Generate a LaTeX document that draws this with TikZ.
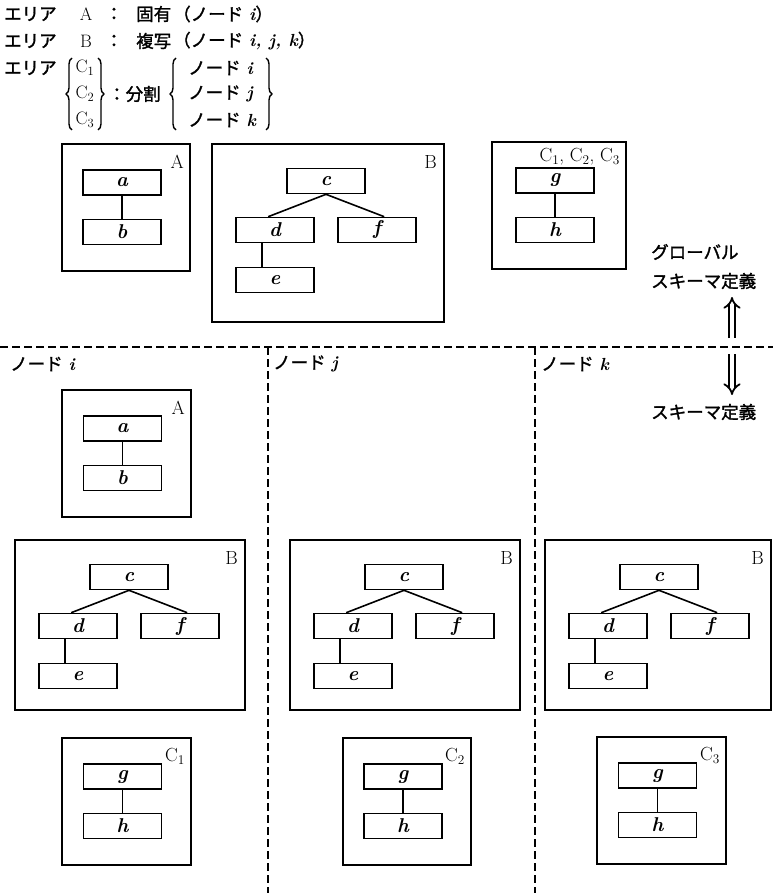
\documentclass[tikz,border=0pt]{standalone}
\usepackage{fontspec}
\newfontfamily\jp{Noto Sans CJK JP}[FakeBold=1.6]
\usetikzlibrary{arrows.meta,calc,decorations.pathreplacing}
\newcommand\varit[1]{{\rmfamily\bfseries\itshape #1}}
\newcommand\sub[1]{\textsubscript{#1}}
\tikzset{
  outerbox/.style={draw, line width=2pt, inner sep=0pt},
  innerbox/.style={draw, line width=1.6pt, minimum width=78pt, minimum height=25pt, inner sep=0pt, font=\rmfamily\bfseries\itshape\fontsize{20}{20}\selectfont},
  link/.style={line width=1.6pt},
  boxlabel/.style={anchor=north east, inner sep=0pt, font=\rmfamily\fontsize{19}{19}\selectfont},
  jpt/.style={inner sep=0pt, font=\jp\fontsize{17.5}{20}\selectfont},
  lat/.style={inner sep=0pt, font=\rmfamily\fontsize{18}{20}\selectfont},
  divider/.style={line width=2pt, dash pattern=on 8pt off 4pt},
  bigarrow/.style={double, double distance=4pt, line width=1.8pt, -{Implies}},
  curly/.style={line width=1.4pt, decorate, decoration={brace, amplitude=6pt}},
}
% name, x, y, width, top letter, bottom letter, label, label offset
\newcommand\pairgroup[8]{%
  \node[outerbox, minimum width=#4pt, minimum height=127pt] (#1) at (#2+#4/2, #3+63.5) {};
  \node[innerbox] (#1-t) at ($(#1.north west)+(#4/2-3,39.5)$) {#5};
  \node[innerbox] (#1-b) at ($(#1.north west)+(#4/2-3,89)$) {#6};
  \node[boxlabel] (#1-l) at ($(#1.north east)+(-7,#8)$) {#7};
  \draw[link] (#1-t) -- (#1-b);
}
% name, x, y, width, height
\newcommand\treegroup[5]{%
  \node[outerbox, minimum width=#4pt, minimum height=#5pt] (#1) at (#2+#4/2, #3+#5/2) {};
  \node[innerbox] (#1-c) at ($(#1.north west)+(115,38)$) {c};
  \node[innerbox] (#1-d) at ($(#1.north west)+(64,87)$) {d};
  \node[innerbox] (#1-f) at ($(#1.north west)+(166,87)$) {f};
  \node[innerbox] (#1-e) at ($(#1.north west)+(64,137)$) {e};
  \node[boxlabel] (#1-l) at ($(#1.north east)+(-8,12)$) {B};
  \draw[link] (#1-c.south) -- ($(#1-d.north west)+(33,0)$);
  \draw[link] (#1-c.south) -- ($(#1-f.north west)+(47,0)$);
  \draw[link] ($(#1-d.south west)+(27,0)$) -- ($(#1-e.north west)+(27,0)$);
}
\begin{document}
\begin{tikzpicture}[x=1pt,y=-1pt]
\useasboundingbox (0,0) rectangle (773,893);
% legend
\node[jpt,anchor=west] (l1a) at (4,14) {エリア};
\node[lat] (l1b) at (86,14) {A};
\node[jpt] (l1c) at (114,14) {：};
\node[jpt,anchor=west] (l1d) at (136,14) {固有};
\node[jpt,anchor=west] (l1e) at (173,14) {（ノード\hspace{6pt}\varit{i}）};
\node[jpt,anchor=west] (l2a) at (4,41) {エリア};
\node[lat] (l2b) at (86,41) {B};
\node[jpt] (l2c) at (114,41) {：};
\node[jpt,anchor=west] (l2d) at (136,41) {複写};
\node[jpt,anchor=west] (l2e) at (173,41) {（ノード\hspace{6pt}\varit{i, j, k}）};
\node[jpt,anchor=west] (l3a) at (4,68) {エリア};
\node[lat] (c1) at (85,68) {C\sub{1}};
\node[lat] (c2) at (85,94) {C\sub{2}};
\node[lat] (c3) at (85,120) {C\sub{3}};
\node[jpt,anchor=west] (l3b) at (108,94) {：分割};
\node[jpt,anchor=west] (n1) at (188,68) {ノード\hspace{6pt}\varit{i}};
\node[jpt,anchor=west] (n2) at (188,94) {ノード\hspace{6pt}\varit{j}};
\node[jpt,anchor=west] (n3) at (188,120) {ノード\hspace{6pt}\varit{k}};
\coordinate (lb1a) at (72,130);
\coordinate (lb1b) at (72,58);
\draw[curly] (lb1a) -- (lb1b);
\coordinate (rb1a) at (98,58);
\coordinate (rb1b) at (98,130);
\draw[curly] (rb1a) -- (rb1b);
\coordinate (lb2a) at (176,130);
\coordinate (lb2b) at (176,58);
\draw[curly] (lb2a) -- (lb2b);
\coordinate (rb2a) at (266,58);
\coordinate (rb2b) at (266,130);
\draw[curly] (rb2a) -- (rb2b);
% global schema
\pairgroup{tA}{62}{144}{128}{a}{b}{A}{12}
\treegroup{tB}{212}{144}{232}{178}
\pairgroup{tC}{492}{142}{134}{g}{h}{C\sub{1}, C\sub{2}, C\sub{3}}{7}
\node[jpt,anchor=west] (glob1) at (651,252) {グローバル};
\node[jpt,anchor=west] (glob2) at (651,281) {スキーマ定義};
\coordinate (up0) at (732,338);
\coordinate (up1) at (732,297);
\draw[bigarrow] (up0) -- (up1);
\coordinate (dn0) at (732,354);
\coordinate (dn1) at (732,395);
\draw[bigarrow] (dn0) -- (dn1);
\node[jpt,anchor=west] (loc) at (651,412) {スキーマ定義};
% dividers
\coordinate (hl) at (0,347);
\coordinate (hr) at (773,347);
\draw[divider] (hl) -- (hr);
\coordinate (v1t) at (268,347);
\coordinate (v1b) at (268,893);
\draw[divider] (v1t) -- (v1b);
\coordinate (v2t) at (535,347);
\coordinate (v2b) at (535,893);
\draw[divider] (v2t) -- (v2b);
\node[jpt,anchor=west] (ni) at (10,364) {ノード\hspace{6pt}\varit{i}};
\node[jpt,anchor=west] (nj) at (273,364) {ノード\hspace{6pt}\varit{j}};
\node[jpt,anchor=west] (nk) at (541,364) {ノード\hspace{6pt}\varit{k}};
% local schemas
\pairgroup{iA}{62}{390}{129}{a}{b}{A}{12}
\treegroup{iB}{15}{540}{230}{170}
\pairgroup{iC}{62}{738}{129}{g}{h}{C\sub{1}}{11}
\treegroup{jB}{290}{540}{230}{170}
\pairgroup{jC}{343}{738}{128}{g}{h}{C\sub{2}}{11}
\treegroup{kB}{545}{540}{226}{170}
\pairgroup{kC}{597}{737}{129}{g}{h}{C\sub{3}}{11}
\end{tikzpicture}
\end{document}
